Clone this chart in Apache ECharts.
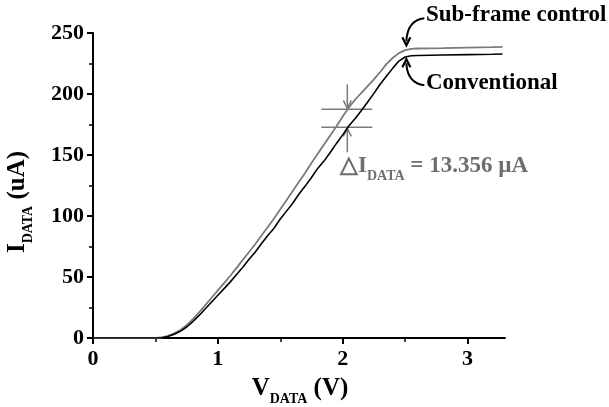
<!DOCTYPE html>
<html>
<head>
<meta charset="utf-8">
<script src="https://cdn.jsdelivr.net/npm/echarts@6/dist/echarts.min.js"></script>
<style>
html, body { margin: 0; padding: 0; background: #fff; }
#main { width: 609px; height: 407px; }
</style>
</head>
<body>
<div id="main"></div>
<script>
// V_DATA (V)
const vData = [0,
  0.50, 0.55, 0.60, 0.65, 0.70, 0.75, 0.80, 0.85, 0.90, 0.95,
  1.00, 1.05, 1.10, 1.15, 1.20, 1.25, 1.30, 1.35, 1.40, 1.45,
  1.50, 1.55, 1.60, 1.65, 1.70, 1.75, 1.80, 1.85, 1.90, 1.95,
  2.00, 2.05, 2.10, 2.15, 2.20, 2.25, 2.30, 2.35, 2.40, 2.45,
  2.50, 2.55, 2.60, 2.80, 3.00, 3.20, 3.28];
// I_DATA (uA), sub-frame control (gray)
const subFrame = [0,
  0, 0.4, 1.8, 3.8, 6.5, 10.5, 15.5, 21, 27, 33,
  39, 45, 51, 57.5, 64, 70.5, 77, 84, 91, 98,
  105.5, 113, 120.5, 128, 135.5, 143.5, 151, 158.5, 166, 173.5,
  181.5, 189, 195.5, 201, 206.5, 212, 218, 224.5, 229.5, 233.5,
  236, 237, 237.3, 237.6, 238, 238.4, 238.7];
// I_DATA (uA), conventional (black)
const conventional = [0,
  0, 0.2, 1.2, 3, 5.5, 9, 13.5, 18.5, 24, 29.5,
  35, 40.5, 46, 52, 58, 64.5, 70.5, 77.5, 84, 90,
  97.5, 104, 110.5, 118, 124.5, 131.5, 139, 145, 152, 159.5,
  166.5, 174, 180, 186.5, 193.5, 200.5, 208, 214.5, 221, 227,
  230.3, 231.3, 231.6, 232, 232.3, 232.6, 232.8];

const xMax = 3.3;
const xTickMax = 3;
const yMax = 250;
// delta marker: V position and the two current levels
const markV = 2.037;
const markLevels = [187.4, 172.7];
const deltaText = '13.356 µA';

const FONT = "'Liberation Serif', 'Times New Roman', serif";
const GRAY = '#7a7a7a';

const Chart = echarts.init(document.getElementById('main'), null, { renderer: 'canvas' });

const L = 93, R = 104, T = 33, B = 69;
const plotW = 609 - L - R;

const labelStyle = { color: '#000', fontFamily: FONT, fontWeight: 'bold', fontSize: 22 };

var option = {
    animation: false,
    grid: [
        { left: L, right: R, top: T, bottom: B },
        { left: L, top: T, bottom: B, width: plotW * xTickMax / xMax } // only for the x ticks 0..3
    ],
    xAxis: [{
        gridIndex: 0, type: 'value', min: 0, max: xMax,
        axisLine: { show: true, onZero: false, lineStyle: { color: '#000', width: 2 } },
        axisTick: { show: false },
        axisLabel: { show: false },
        splitLine: { show: false }
    }, {
        gridIndex: 1, type: 'value', min: 0, max: xTickMax, interval: 1,
        axisLine: { show: false },
        axisTick: { show: true, length: 6, lineStyle: { color: '#000', width: 2 } },
        minorTick: { show: true, splitNumber: 2, length: 4, lineStyle: { color: '#000', width: 1.5 } },
        axisLabel: Object.assign({ margin: 10 }, labelStyle),
        splitLine: { show: false }
    }],
    yAxis: [{
        gridIndex: 0, type: 'value', min: 0, max: yMax, interval: 50,
        axisLine: { show: true, onZero: false, lineStyle: { color: '#000', width: 2 } },
        axisTick: { show: true, length: 6, lineStyle: { color: '#000', width: 2 } },
        minorTick: { show: true, splitNumber: 2, length: 4, lineStyle: { color: '#000', width: 1.5 } },
        axisLabel: Object.assign({ margin: 9 }, labelStyle),
        splitLine: { show: false }
    }, {
        gridIndex: 1, type: 'value', min: 0, max: yMax, show: false
    }],
    series: [{
        name: 'Sub-frame control',
        type: 'line',
        xAxisIndex: 0, yAxisIndex: 0,
        data: vData.map((v, i) => [v, subFrame[i]]),
        showSymbol: false,
        lineStyle: { color: GRAY, width: 1.8 },
        z: 3
    }, {
        name: 'Conventional',
        type: 'line',
        xAxisIndex: 0, yAxisIndex: 0,
        data: vData.map((v, i) => [v, conventional[i]]),
        showSymbol: false,
        lineStyle: { color: '#000', width: 1.6 },
        z: 4
    }]
};
Chart.setOption(option);

// annotations placed from data coords
const px = (v, i) => Chart.convertToPixel({ seriesIndex: 0 }, [v, i]);
const m1 = px(markV, markLevels[0]);
const m2 = px(markV, markLevels[1]);
const subTip = px(2.51, 240);
const convTip = px(2.51, 228.5);

const boldText = { fontFamily: FONT, fontWeight: 'bold' };
const gLine = (pts, color, w) => ({
    type: 'polyline', shape: { points: pts }, silent: true,
    style: { stroke: color, lineWidth: w, fill: null }
});

const graphics = [
    // delta marker
    gLine([[m1[0] - 26, m1[1]], [m1[0] + 25, m1[1]]], GRAY, 1.5),
    gLine([[m2[0] - 26, m2[1]], [m2[0] + 25, m2[1]]], GRAY, 1.5),
    gLine([[m1[0], m1[1] - 25], [m1[0], m1[1] - 1]], GRAY, 1.5),
    gLine([[m1[0] - 4, m1[1] - 9], [m1[0], m1[1] - 1], [m1[0] + 4, m1[1] - 9]], GRAY, 1.5),
    gLine([[m2[0], m2[1] + 25], [m2[0], m2[1] + 1]], GRAY, 1.5),
    gLine([[m2[0] - 4, m2[1] + 9], [m2[0], m2[1] + 1], [m2[0] + 4, m2[1] + 9]], GRAY, 1.5),
    // curved arrows to the curves
    {
        type: 'bezierCurve', silent: true,
        shape: { x1: subTip[0] + 18, y1: subTip[1] - 27, cpx1: subTip[0] + 1, cpy1: subTip[1] - 25, x2: subTip[0], y2: subTip[1] - 4 },
        style: { stroke: '#000', lineWidth: 2, fill: null }
    },
    gLine([[subTip[0] - 4, subTip[1] - 8], [subTip[0], subTip[1]], [subTip[0] + 4, subTip[1] - 8]], '#000', 2.2),
    {
        type: 'bezierCurve', silent: true,
        shape: { x1: convTip[0] + 18, y1: convTip[1] + 26, cpx1: convTip[0] + 1, cpy1: convTip[1] + 24, x2: convTip[0], y2: convTip[1] + 4 },
        style: { stroke: '#000', lineWidth: 2, fill: null }
    },
    gLine([[convTip[0] - 4, convTip[1] + 8], [convTip[0], convTip[1]], [convTip[0] + 4, convTip[1] + 8]], '#000', 2.2),
    {
        type: 'text', left: 426, top: 4, silent: true,
        style: Object.assign({ text: 'Sub-frame control', fontSize: 23, fill: '#000' }, boldText)
    },
    {
        type: 'text', left: 426, top: 72, silent: true,
        style: Object.assign({ text: 'Conventional', fontSize: 23, fill: '#000' }, boldText)
    },
    {
        type: 'text', x: 340, y: 166, silent: true,
        style: {
            text: '{t|△I}{s|DATA}{t| = ' + deltaText + '}',
            align: 'left', verticalAlign: 'middle',
            rich: {
                t: Object.assign({ fontSize: 23, lineHeight: 26, fill: '#6e6e6e', color: '#6e6e6e' }, boldText),
                s: Object.assign({ fontSize: 14, lineHeight: 14, padding: [20, 0, 0, 0], fill: '#6e6e6e', color: '#6e6e6e' }, boldText)
            }
        }
    },
    // axis names
    {
        type: 'text', x: 300, y: 389, silent: true,
        style: {
            text: '{i|V}{s|DATA}{i| (V)}',
            align: 'center', verticalAlign: 'middle',
            rich: {
                i: Object.assign({ fontSize: 25, lineHeight: 26, color: '#000' }, boldText),
                s: Object.assign({ fontSize: 14, lineHeight: 14, padding: [20, 0, 0, 0], color: '#000' }, boldText)
            }
        }
    },
    {
        type: 'text', x: 18, y: 202, rotation: Math.PI / 2, silent: true,
        style: {
            text: '{i|I}{s|DATA}{i| (uA)}',
            align: 'center', verticalAlign: 'middle',
            rich: {
                i: Object.assign({ fontSize: 25, lineHeight: 26, color: '#000' }, boldText),
                s: Object.assign({ fontSize: 14, lineHeight: 14, padding: [20, 0, 0, 0], color: '#000' }, boldText)
            }
        }
    }
];
Chart.setOption({ graphic: graphics });
</script>
</body>
</html>
